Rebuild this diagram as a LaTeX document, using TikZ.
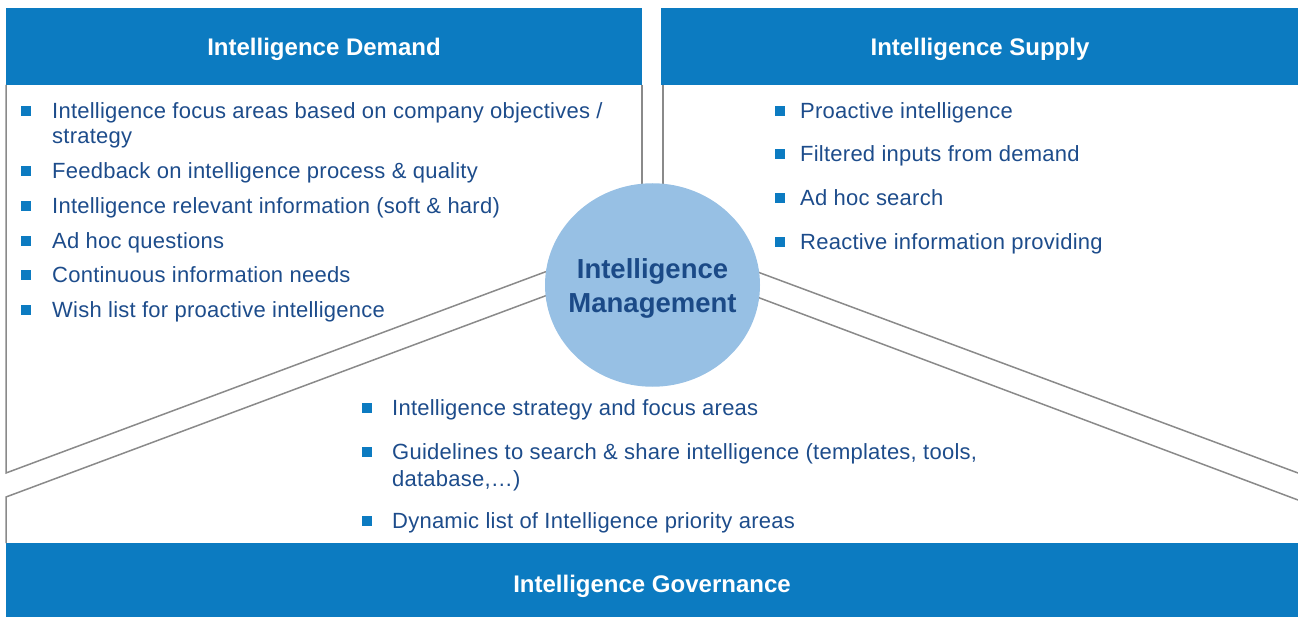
\documentclass[tikz,border=0pt]{standalone}
\usepackage{fontspec}
\setmainfont{Liberation Sans}
\newfontfamily\bodyfont[LetterSpace=1.1]{Liberation Sans}
\usetikzlibrary{shapes.geometric}
\definecolor{barblue}{HTML}{0C7BC1}
\definecolor{circblue}{HTML}{97C0E4}
\definecolor{txtblue}{HTML}{1D4C8B}
\definecolor{circtxt}{HTML}{1B4A87}
\definecolor{linegray}{HTML}{8A8A8A}
\begin{document}
\begin{tikzpicture}[x=1pt,y=-1pt,
  bar/.style={fill=barblue,draw=none,rectangle,inner sep=0},
  ttl/.style={text=white,font=\fontsize{24}{28}\selectfont\bfseries,anchor=base,inner sep=0},
  itm/.style={text=txtblue,font=\bodyfont\fontsize{22}{25}\selectfont,anchor=base west,inner sep=0,yshift=-1.5pt},
  bul/.style={fill=barblue,draw=none,rectangle,minimum size=10pt,inner sep=0},
  panel/.style={draw=linegray,line width=1.5pt},
  ctr/.style={text=circtxt,font=\fontsize{27.5}{32}\selectfont\bfseries,anchor=base,inner sep=0}]
\useasboundingbox (0,0) rectangle (1298,617);
% bars
\node[bar,minimum width=636pt,minimum height=77pt] (demandbar) at (324,46.5) {};
\node[bar,minimum width=637pt,minimum height=77pt] (supplybar) at (979.5,46.5) {};
\node[bar,minimum width=1292pt,minimum height=74pt] (govbar) at (652,580) {};
\node[ttl] (demandttl) at (324,56) {Intelligence Demand};
\node[ttl] (supplyttl) at (980,56) {Intelligence Supply};
\node[ttl] (govttl) at (652,592) {Intelligence Governance};
% panel outlines
\coordinate (dA) at (6,85);
\coordinate (dB) at (6,473);
\coordinate (dC) at (560,266.4);
\coordinate (dD) at (642,85);
\coordinate (dE) at (642,200);
\coordinate (sA) at (663,85);
\coordinate (sB) at (663,200);
\coordinate (sC) at (745,267.3);
\coordinate (sD) at (1298,473);
\coordinate (gA) at (6,543);
\coordinate (gB) at (6,497);
\coordinate (gC) at (560,290.4);
\coordinate (gD) at (745,292.5);
\coordinate (gE) at (1298,500);
\draw[panel] (dA) -- (dB) -- (dC);
\draw[panel] (dD) -- (dE);
\draw[panel] (sA) -- (sB);
\draw[panel] (sC) -- (sD);
\draw[panel] (gA) -- (gB) -- (gC);
\draw[panel] (gD) -- (gE);
% centre ellipse
\node[ellipse,fill=circblue,draw=none,minimum width=215pt,minimum height=203.5pt,inner sep=0] (im) at (652.5,285) {};
\node[ctr] (imA) at (652.5,279) {Intelligence};
\node[ctr] (imB) at (652.5,313) {Management};
% demand items
\node[bul] (db1) at (26,111) {};
\node[itm] (d1) at (52,117) {Intelligence focus areas based on company objectives /};
\node[itm] (d1b) at (52,142) {strategy};
\node[bul] (db2) at (26,171) {};
\node[itm] (d2) at (52,177) {Feedback on intelligence process \& quality};
\node[bul] (db3) at (26,206) {};
\node[itm] (d3) at (52,212) {Intelligence relevant information (soft \& hard)};
\node[bul] (db4) at (26,241) {};
\node[itm] (d4) at (52,247) {Ad hoc questions};
\node[bul] (db5) at (26,275) {};
\node[itm] (d5) at (52,281) {Continuous information needs};
\node[bul] (db6) at (26,310) {};
\node[itm] (d6) at (52,316) {Wish list for proactive intelligence};
% supply items
\node[bul] (sb1) at (780,111) {};
\node[itm] (s1) at (800,117) {Proactive intelligence};
\node[bul] (sb2) at (780,154) {};
\node[itm] (s2) at (800,160) {Filtered inputs from demand};
\node[bul] (sb3) at (780,198) {};
\node[itm] (s3) at (800,204) {Ad hoc search};
\node[bul] (sb4) at (780,242) {};
\node[itm] (s4) at (800,248) {Reactive information providing};
% governance items
\node[bul] (gb1) at (367,408) {};
\node[itm] (g1) at (392,414) {Intelligence strategy and focus areas};
\node[bul] (gb2) at (367,452) {};
\node[itm] (g2) at (392,458) {Guidelines to search \& share intelligence (templates, tools,};
\node[itm] (g2b) at (392,485) {database,\ldots)};
\node[bul] (gb3) at (367,521) {};
\node[itm] (g3) at (392,527) {Dynamic list of Intelligence priority areas};
\end{tikzpicture}
\end{document}
